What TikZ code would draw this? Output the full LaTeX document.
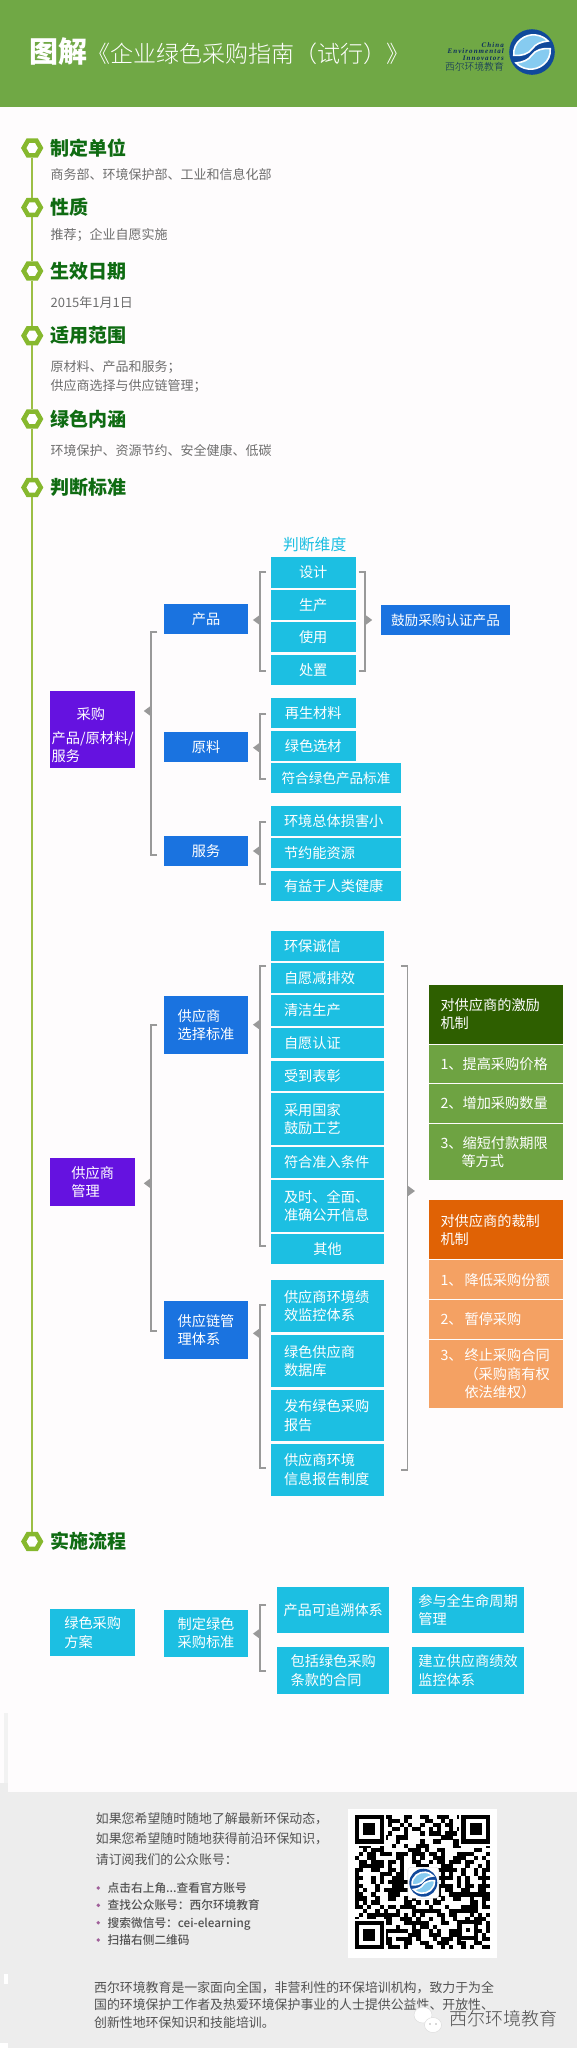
\documentclass[tikz,border=0pt]{standalone}
\usepackage{fontspec}
\usepackage{xcolor}
\usepackage{tikz}
\usetikzlibrary{positioning}
\usetikzlibrary{arrows.meta}
\usetikzlibrary{shapes.geometric}
\setmainfont{Noto Sans CJK SC}
\newfontfamily\lightfont{Noto Sans CJK SC Light}
\newfontfamily\mediumfont{Noto Sans CJK SC Medium}
\newfontfamily\logolatin[LetterSpace=15]{Liberation Serif}

\definecolor{pagebg}{HTML}{FEFCFD}
\definecolor{headergreen}{HTML}{70A845}
\definecolor{hexgreen}{HTML}{86B82E}
\definecolor{spinegreen}{HTML}{9CBF45}
\definecolor{titlegreen}{HTML}{0F6B12}
\definecolor{bodygrey}{HTML}{6E6E6E}
\definecolor{cyanbox}{HTML}{1CBFE2}
\definecolor{bluebox}{HTML}{1A73E0}
\definecolor{purplebox}{HTML}{6512E0}
\definecolor{darkgreen}{HTML}{2E5F00}
\definecolor{midgreen}{HTML}{6EA342}
\definecolor{darkorange}{HTML}{E06205}
\definecolor{lightorange}{HTML}{F4A163}
\definecolor{bracketgrey}{HTML}{999999}
\definecolor{footergrey}{HTML}{EDEDED}
\definecolor{logonavy}{HTML}{10499B}
\definecolor{logosky}{HTML}{86CBF0}
\definecolor{bulletpurple}{HTML}{A0609A}

\tikzset{
  hexring/.style={regular polygon, regular polygon sides=6, draw=hexgreen, line width=4.6pt, fill=white, minimum size=17pt, inner sep=0pt},
  spine/.style={draw=spinegreen, line width=1.5pt},
  heading/.style={anchor=west, inner sep=0pt, text=titlegreen, font=\fontsize{19}{22}\selectfont\bfseries},
  bodytext/.style={anchor=west, inner sep=0pt, text=bodygrey, align=left, font=\fontsize{13}{19}\selectfont},
  flatbox/.style={rectangle, inner sep=0pt, text=white, align=left, minimum height=30.4pt, font=\fontsize{14.2}{18.3}\selectfont},
  cyanshort/.style={flatbox, fill=cyanbox, minimum width=85pt, align=center},
  cyanmid/.style={flatbox, fill=cyanbox, inner xsep=13pt, text width=104pt},
  cyanwide/.style={flatbox, fill=cyanbox, inner xsep=13pt, text width=87.2pt},
  cyanflow/.style={flatbox, fill=cyanbox, minimum width=112.4pt, minimum height=46.7pt},
  blueitem/.style={flatbox, fill=bluebox, minimum width=84.4pt},
  purpleitem/.style={flatbox, fill=purplebox, minimum width=84.6pt},
  panel/.style={flatbox, inner xsep=11.5pt, text width=111pt},
  bracket/.style={draw=bracketgrey, line width=1.8pt},
  brackettip/.style={draw=bracketgrey, line width=1.8pt, -{Triangle[length=7.5pt,width=10.5pt]}, shorten >=#1},
  footertext/.style={anchor=west, inner sep=0pt, text=black!68, align=left},
  ceilogo/.pic={
    \fill[logonavy] (0,0) circle (1);
    \foreach \r in {0,180}{
      \filldraw[rotate=\r, fill=logosky, draw=white, line width=1.6pt] (-.8,.15) .. controls (-.85,-.45) and (-.3,-.8) .. (.15,-.75)
        .. controls (.4,-.72) and (.6,-.6) .. (.7,-.48) .. controls (.4,-.45) and (.15,-.35) .. (.02,-.15)
        .. controls (-.15,.1) and (-.5,.18) .. (-.8,.15) -- cycle;
    }
  },
}

% left bracket: bar x, top y, bottom y, tip y, box it points at, tip shortening
\newcommand{\leftbrace}[6]{
  \draw[bracket] (#1+6,#2) -- (#1,#2) -- (#1,#3) -- (#1+6,#3);
  \coordinate (tiproot) at (#1,#4);
  \draw[brackettip=#6] (tiproot) -- (#5.east |- tiproot);
}

\begin{document}
\begin{tikzpicture}[x=1pt,y=-1pt]
  \useasboundingbox (0,0) rectangle (577,2048);
  \fill[pagebg] (0,0) rectangle (577,2048);

  % header
  \fill[headergreen] (0,0) rectangle (577,107);
  \node[anchor=west, inner sep=0pt, text=white, font=\fontsize{29}{32}\selectfont\bfseries] (tubiao) at (29,52) {图解};
  \node[anchor=west, inner sep=0pt, text=white, font=\lightfont\fontsize{23}{26}\selectfont] (guide) at (87.4,54) {《企业绿色采购指南（试行）》};
  \path (532,52) pic[scale=22.8] {ceilogo};
  \node[anchor=east, inner sep=0pt, align=right, text=logonavy!60!black, font=\logolatin\bfseries\itshape\fontsize{7}{6.6}\selectfont] (logoen) at (504,51.5) {China\\Environmental\\Innovators};
  \node[anchor=east, inner sep=0pt, text=logonavy!60!black, font=\lightfont\fontsize{9.8}{11}\selectfont] (logocn) at (504,67) {西尔环境教育};

  % timeline
  \foreach \name/\y/\txt in {hexa/148/制定单位, hexb/207.5/性质, hexc/271/生效日期, hexd/335.7/适用范围, hexe/419/绿色内涵, hexf/487.5/判断标准, hexg/1541.5/实施流程}{
    \node[hexring] (\name) at (32.2,\y) {};
    \node[heading] (title\name) at (50.4,\y) {\txt};
  }
  \foreach \a/\b in {hexa/hexb, hexb/hexc, hexc/hexd, hexd/hexe, hexe/hexf, hexf/hexg}{
    \draw[spine] (\a) -- (\b);
  }
  \node[bodytext] (unit) at (50.4,175) {商务部、环境保护部、工业和信息化部};
  \node[bodytext] (nature) at (50.4,235) {推荐；企业自愿实施};
  \node[bodytext] (date) at (50.4,302.7) {2015年1月1日};
  \node[bodytext] (scope) at (50.4,376.5) {原材料、产品和服务；\\供应商选择与供应链管理；};
  \node[bodytext] (green) at (50.4,450.7) {环境保护、资源节约、安全健康、低碳};

  % purchasing
  \node[text=cyanbox, inner sep=0pt, font=\fontsize{15.8}{18}\selectfont] (dimlabel) at (314.7,544) {判断维度};
  \node[purpleitem, minimum height=76.7pt] (buy) at (92.7,729.3) {\rule{0pt}{24pt}\hspace*{25pt}采购\\[5pt]产品/原材料/\\服务};
  \node[blueitem] (product) at (206,619.2) {产品};
  \node[blueitem] (material) at (206,747) {原料};
  \node[blueitem] (service) at (206,851) {服务};
  \node[cyanshort] (design) at (313.2,572.5) {设计};
  \node[cyanshort] (make) at (313.2,604.9) {生产};
  \node[cyanshort] (use) at (313.2,637.2) {使用};
  \node[cyanshort] (dispose) at (313.2,669.9) {处置};
  \node[flatbox, fill=bluebox, minimum width=129pt, font=\fontsize{13.6}{18}\selectfont] (reward) at (445.5,620) {鼓励采购认证产品};
  \node[cyanshort] (recycled) at (313.2,713.2) {再生材料};
  \node[cyanshort] (choice) at (313.2,745.9) {绿色选材};
  \node[cyanshort, minimum width=130pt, font=\fontsize{13.6}{18}\selectfont] (conform) at (336,777.9) {符合绿色产品标准};
  \node[cyanmid] (harm) at (336,820.9) {环境总体损害小};
  \node[cyanmid] (saving) at (336,853.2) {节约能资源};
  \node[cyanmid] (health) at (336,886.2) {有益于人类健康};

  \leftbrace{260}{572.3}{671.3}{620}{product}{4.5pt}
  \leftbrace{260}{713.7}{778.7}{747.7}{material}{4.5pt}
  \leftbrace{260}{821.7}{884}{851}{service}{4.5pt}
  \leftbrace{151.3}{632.3}{855}{711}{buy}{8.5pt}
  \draw[bracket] (358.5,572.3) -- (365,572.3) -- (365,671.3) -- (358.5,671.3);
  \coordinate (dimroot) at (365,620);
  \draw[brackettip=8.5pt] (dimroot) -- (reward.west |- dimroot);

  % suppliers
  \node[purpleitem, minimum height=47.4pt] (supplier) at (92.7,1182) {供应商\\管理};
  \node[blueitem, minimum height=58pt] (select) at (206,1025) {供应商\\选择标准};
  \node[blueitem, minimum height=58pt] (chain) at (206,1330.2) {供应链管\\理体系};
  \node[cyanwide] (honest) at (327.6,945.7) {环保诚信};
  \node[cyanwide] (reduce) at (327.6,978.2) {自愿减排效};
  \node[cyanwide] (clean) at (327.6,1010.5) {清洁生产};
  \node[cyanwide] (certify) at (327.6,1043.2) {自愿认证};
  \node[cyanwide] (praise) at (327.6,1075.7) {受到表彰};
  \node[cyanwide, minimum height=52.3pt] (craft) at (327.6,1119.2) {采用国家\\鼓励工艺};
  \node[cyanwide] (entry) at (327.6,1162.5) {符合准入条件};
  \node[cyanwide, minimum height=52pt] (disclose) at (327.6,1205.7) {及时、全面、\\准确公开信息};
  \node[cyanwide, align=center] (others) at (327.6,1248.9) {其他};
  \node[cyanwide, minimum height=52pt] (monitor) at (327.6,1306.3) {供应商环境绩\\效监控体系};
  \node[cyanwide, minimum height=51.7pt] (database) at (327.6,1361.2) {绿色供应商\\数据库};
  \node[cyanwide, minimum height=51.6pt] (report) at (327.6,1415.5) {发布绿色采购\\报告};
  \node[cyanwide, minimum height=52pt] (inforeport) at (327.6,1469.7) {供应商环境\\信息报告制度};

  \leftbrace{260}{966}{1246.3}{1024.7}{select}{4.5pt}
  \leftbrace{260}{1305}{1468}{1333.3}{chain}{4.5pt}
  \leftbrace{151.3}{1025}{1330.7}{1183.3}{supplier}{8.5pt}
  \draw[bracket] (401,966) -- (407.5,966) -- (407.5,1470) -- (401,1470);
  \coordinate (panelroot) at (407.5,1191);
  \coordinate (paneltip) at (415,1191);
  \draw[brackettip=0pt] (panelroot) -- (paneltip);

  % reward and sanction panels
  \node[panel, fill=darkgreen, minimum height=59.3pt] (rewardhead) at (496,1014.3) {对供应商的激励\\机制};
  \node[panel, fill=midgreen, minimum height=38pt] (rewarda) at (496,1064) {1、提高采购价格};
  \node[panel, fill=midgreen, minimum height=38.7pt] (rewardb) at (496,1103.3) {2、增加采购数量};
  \node[panel, fill=midgreen, minimum height=56pt] (rewardc) at (496,1152) {3、缩短付款期限\\\hspace*{21pt}等方式};
  \node[panel, fill=darkorange, minimum height=59pt] (punishhead) at (496,1229.8) {对供应商的裁制\\机制};
  \node[panel, fill=lightorange, minimum height=38.7pt] (punisha) at (496,1279.7) {1、\hspace{2pt}降低采购份额};
  \node[panel, fill=lightorange, minimum height=39pt] (punishb) at (496,1319.5) {2、\hspace{2pt}暂停采购};
  \node[panel, fill=lightorange, minimum height=67.7pt] (punishc) at (496,1373.9) {3、\hspace{2pt}终止采购合同\\\hspace*{24pt}（采购商有权\\\hspace*{24pt}依法维权）};

  % flow
  \node[flatbox, fill=cyanbox, minimum width=84.6pt, minimum height=47pt] (plan) at (92.7,1632.5) {绿色采购\\方案};
  \node[flatbox, fill=cyanbox, minimum width=84.4pt, minimum height=46.7pt] (standard) at (206,1633.3) {制定绿色\\采购标准};
  \node[cyanflow] (trace) at (333.2,1610) {产品可追溯体系};
  \node[cyanflow] (contract) at (333.2,1670.5) {包括绿色采购\\条款的合同};
  \node[cyanflow] (cycle) at (468,1610) {参与全生命周期\\管理};
  \node[cyanflow] (perform) at (468,1670.5) {建立供应商绩效\\监控体系};
  \leftbrace{260}{1605.3}{1671.3}{1633.7}{standard}{4.5pt}

  % footer
  \fill[black!5] (4,1713) rectangle (8,1783);
  \fill[footergrey] (0,1783) rectangle (8,1791.7);
  \fill[footergrey] (0,1791.7) rectangle (577,2048);
  \fill[white] (4,1974) rectangle (8,1984);
  \fill[white] (0,2043.3) rectangle (8,2048);
  \node[footertext, font=\fontsize{12.9}{20.3}\selectfont] (subscribe) at (95.7,1839) {如果您希望随时随地了解最新环保动态，\\如果您希望随时随地获得前沿环保知识，\\请订阅我们的公众账号：};
  \foreach \y in {1888,1905.3,1922.7,1940}{
    \fill[bulletpurple] (98.3,\y) circle (1.9);
  }
  \node[footertext, font=\mediumfont\fontsize{11.7}{17.3}\selectfont] (howto) at (107.5,1914) {点击右上角...查看官方账号\\查找公众账号：西尔环境教育\\搜索微信号：cei-elearning\\扫描右侧二维码};

  % qr code
  \fill[white] (348,1808.7) rectangle (497,1957.7);
  \foreach \i in {0,...,32}{
    \foreach \j in {0,...,32}{
      \edef\hash{\the\numexpr \i*\i*\j*3+\j*\j*5+\i*7+\j*11+\i*\j*\j\relax}
      \ifnum\numexpr\hash-31*(\hash/31)\relax<0
        \fill[black] (355+4.09*\i,1815+4.07*\j) rectangle ++(4.2,4.2);
      \fi
    }
  }
  \foreach \cx/\cy in {355/1815,461.4/1815,355/1920.8}{
    \fill[white] (\cx-2,\cy-2) rectangle ++(32.6,32.6);
    \fill[black] (\cx,\cy) rectangle ++(28.6,28.5);
    \fill[white] (\cx+4.1,\cy+4.1) rectangle ++(20.4,20.3);
    \fill[black] (\cx+8.2,\cy+8.1) rectangle ++(12.2,12.3);
  }
  \fill[black] (457.4,1919.5) rectangle ++(20.4,20.4);
  \fill[white] (461.5,1923.6) rectangle ++(12.2,12.2);
  \fill[black] (465.6,1927.7) rectangle ++(4,4);
  \filldraw[fill=white, draw=black!15, rounded corners=3pt] (407.8,1867.2) rectangle (438.8,1898.2);
  \path (423.3,1882.7) pic[scale=14] {ceilogo};

  \node[footertext, font=\fontsize{12.9}{17.3}\selectfont] (about) at (93.9,2005) {西尔环境教育是一家面向全国，非营利性的环保培训机构，致力于为全\\国的环境保护工作者及热爱环境保护事业的人士提供公益性、开放性、\\创新性地环保知识和技能培训。};

  % watermark
  \filldraw[fill=white, draw=black!15, line width=.4pt] (423,2015) ellipse (9 and 8);
  \filldraw[fill=white, draw=black!15, line width=.4pt] (433,2025) ellipse (8.5 and 7.5);
  \fill[black!30] (430,2024) circle (.8) (436,2024) circle (.8);
  \node[anchor=west, inner sep=0pt, text=black!70, font=\lightfont\fontsize{18}{20}\selectfont] (watermark) at (449.5,2018.5) {西尔环境教育};
\end{tikzpicture}
\end{document}
